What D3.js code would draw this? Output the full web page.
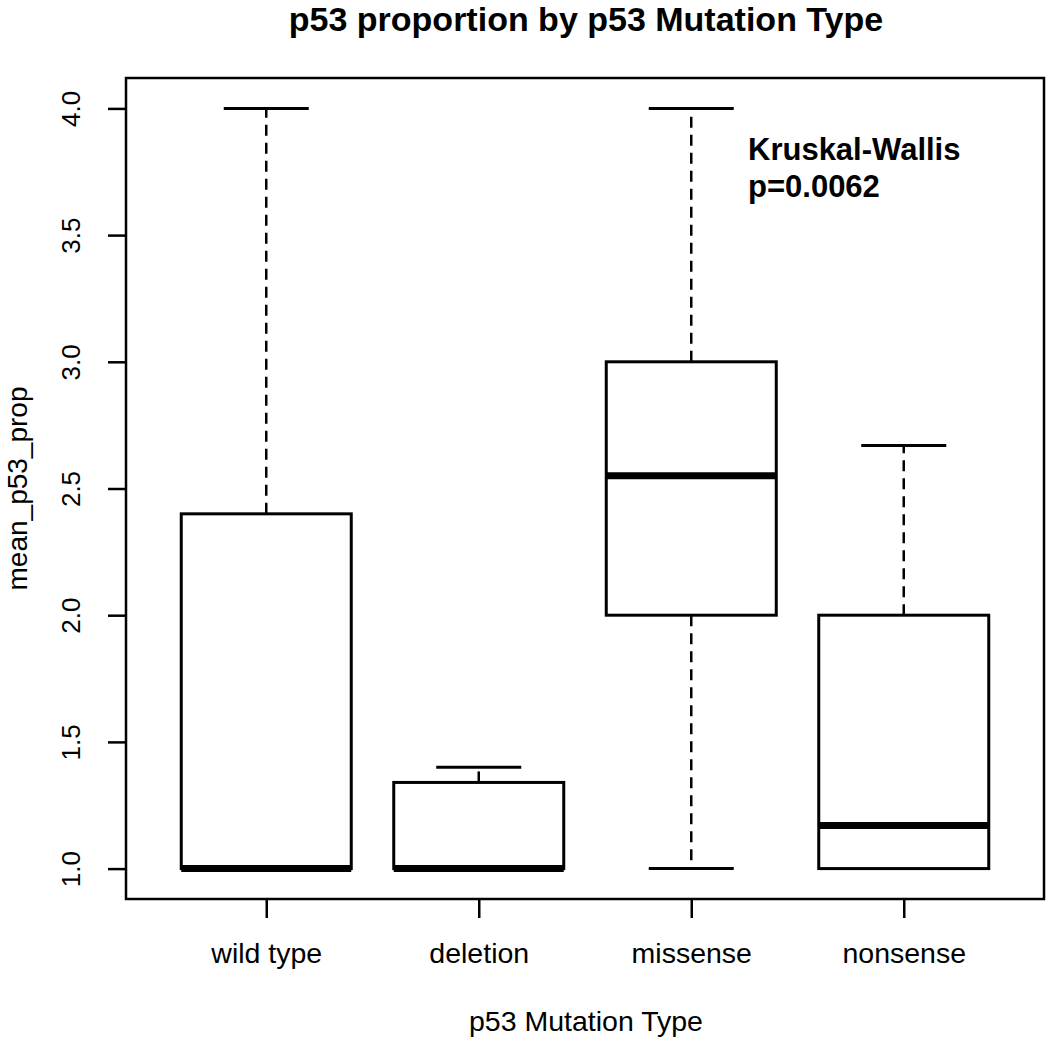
<!DOCTYPE html>
<html>
<head>
<meta charset="utf-8">
<script src="https://cdn.jsdelivr.net/npm/d3@7"></script>
<style>
  body { margin: 0; background: #fff; }
  text { font-family: "Liberation Sans", Arial, sans-serif; fill: #000; }
</style>
</head>
<body>
<div id="chart"></div>
<script>
var categories = ["wild type", "deletion", "missense", "nonsense"];
var lowerWhisker = [1.0, 1.0, 1.0, 1.0];
var q1 = [1.0, 1.0, 2.0, 1.0];
var medians = [1.0, 1.0, 2.55, 1.17];
var q3 = [2.4, 1.34, 3.0, 2.0];
var upperWhisker = [4.0, 1.40, 4.0, 2.67];
var yTicks = [1.0, 1.5, 2.0, 2.5, 3.0, 3.5, 4.0];

(function() {
	"use strict";

	var w = 1050, h = 1038;
	var plotLeft = 126, plotRight = 1044, plotTop = 78, plotBottom = 899;

	var svg = d3.select("#chart").append("svg")
		.attr("width", w)
		.attr("height", h);

	var x = d3.scaleLinear().domain([0.34, 4.66]).range([plotLeft, plotRight]);
	var y = d3.scaleLinear().domain([0.88, 4.12]).range([plotBottom, plotTop]);

	var boxes = categories.map(function(c, i) {
		return { name: c, pos: i + 1, lo: lowerWhisker[i], q1: q1[i], med: medians[i], q3: q3[i], hi: upperWhisker[i] };
	});

	var boxwex = 0.8;
	var half = x(1 + boxwex / 2) - x(1);

	var g = svg.selectAll("g.box")
		.data(boxes)
		.enter()
		.append("g")
		.attr("class", "box");

	// whiskers (dashed)
	g.append("line")
		.attr("x1", function(d) { return x(d.pos); })
		.attr("x2", function(d) { return x(d.pos); })
		.attr("y1", function(d) { return y(d.q3); })
		.attr("y2", function(d) { return y(d.hi); })
		.attr("stroke", "#000").attr("stroke-width", 2.5).attr("stroke-dasharray", "11,7");
	g.append("line")
		.attr("x1", function(d) { return x(d.pos); })
		.attr("x2", function(d) { return x(d.pos); })
		.attr("y1", function(d) { return y(d.q1); })
		.attr("y2", function(d) { return y(d.lo); })
		.attr("stroke", "#000").attr("stroke-width", 2.5).attr("stroke-dasharray", "11,7");

	// caps
	g.append("line")
		.attr("x1", function(d) { return x(d.pos) - half / 2; })
		.attr("x2", function(d) { return x(d.pos) + half / 2; })
		.attr("y1", function(d) { return y(d.hi); })
		.attr("y2", function(d) { return y(d.hi); })
		.attr("stroke", "#000").attr("stroke-width", 3);
	g.append("line")
		.attr("x1", function(d) { return x(d.pos) - half / 2; })
		.attr("x2", function(d) { return x(d.pos) + half / 2; })
		.attr("y1", function(d) { return y(d.lo); })
		.attr("y2", function(d) { return y(d.lo); })
		.attr("stroke", "#000").attr("stroke-width", 3);

	// boxes
	g.append("rect")
		.attr("x", function(d) { return x(d.pos) - half; })
		.attr("y", function(d) { return y(d.q3); })
		.attr("width", half * 2)
		.attr("height", function(d) { return y(d.q1) - y(d.q3); })
		.attr("fill", "#fff")
		.attr("stroke", "#000").attr("stroke-width", 3);

	// medians
	g.append("line")
		.attr("x1", function(d) { return x(d.pos) - half; })
		.attr("x2", function(d) { return x(d.pos) + half; })
		.attr("y1", function(d) { return y(d.med); })
		.attr("y2", function(d) { return y(d.med); })
		.attr("stroke", "#000").attr("stroke-width", 7);

	// frame
	svg.append("rect")
		.attr("x", plotLeft).attr("y", plotTop)
		.attr("width", plotRight - plotLeft).attr("height", plotBottom - plotTop)
		.attr("fill", "none").attr("stroke", "#000").attr("stroke-width", 2.5);

	// y axis
	var yAxis = d3.axisLeft(y).tickValues(yTicks).tickSize(18).tickFormat(d3.format(".1f"));
	var ya = svg.append("g").attr("transform", "translate(" + plotLeft + ",0)").call(yAxis);
	ya.select(".domain").remove();
	ya.selectAll(".tick line").attr("stroke", "#000").attr("stroke-width", 2.5);
	ya.selectAll(".tick text")
		.attr("font-size", 26)
		.attr("font-family", "Liberation Sans, Arial, sans-serif")
		.attr("x", 0).attr("y", 0).attr("dy", 0)
		.attr("text-anchor", "middle")
		.attr("transform", "translate(-46,0) rotate(-90)");

	// x axis
	var xAxis = d3.axisBottom(x).tickValues([1, 2, 3, 4]).tickSize(19).tickFormat(function(d) { return categories[d - 1]; });
	var xa = svg.append("g").attr("transform", "translate(0," + plotBottom + ")").call(xAxis);
	xa.select(".domain").remove();
	xa.selectAll(".tick line").attr("stroke", "#000").attr("stroke-width", 2.5);
	xa.selectAll(".tick text")
		.attr("font-size", 28.5)
		.attr("font-family", "Liberation Sans, Arial, sans-serif")
		.attr("y", 64).attr("dy", 0);

	// title
	svg.append("text")
		.attr("x", 586).attr("y", 31)
		.attr("text-anchor", "middle")
		.attr("font-size", 34)
		.attr("font-weight", "bold")
		.text("p53 proportion by p53 Mutation Type");

	// axis titles
	svg.append("text")
		.attr("x", 586).attr("y", 1031)
		.attr("text-anchor", "middle")
		.attr("font-size", 28.5)
		.text("p53 Mutation Type");

	svg.append("text")
		.attr("transform", "translate(27," + ((plotTop + plotBottom) / 2) + ") rotate(-90)")
		.attr("text-anchor", "middle")
		.attr("font-size", 28)
		.text("mean_p53_prop");

	// annotation
	svg.append("text")
		.attr("x", 748).attr("y", 160)
		.attr("font-size", 31)
		.attr("font-weight", "bold")
		.text("Kruskal-Wallis");
	svg.append("text")
		.attr("x", 748).attr("y", 197)
		.attr("font-size", 31)
		.attr("font-weight", "bold")
		.text("p=0.0062");
}());
</script>
</body>
</html>
